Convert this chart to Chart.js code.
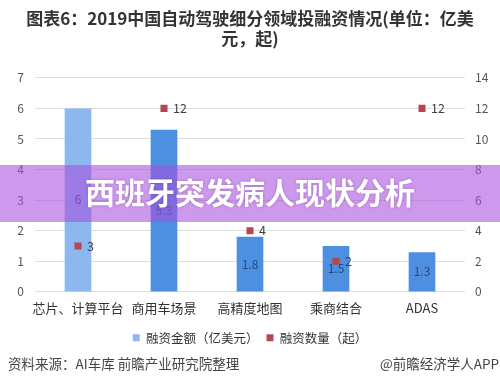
<!DOCTYPE html>
<html>
<head>
<meta charset="utf-8">
<script src="https://cdn.jsdelivr.net/npm/chart.js@4/dist/chart.umd.min.js"></script>
<style>
  html, body { margin: 0; padding: 0; background: #fff; }
  #wrap { width: 500px; height: 387px; position: relative; }
</style>
</head>
<body>
<div id="wrap"><canvas id="chart"></canvas></div>
<script>
const categories = ['芯片、计算平台', '商用车场景', '高精度地图', '乘商结合', 'ADAS'];
const amountValues = [6, 5.3, 1.8, 1.5, 1.3];
const countValues = [3, 12, 4, 2, 12];
const leftTicks = [0, 1, 2, 3, 4, 5, 6, 7];
const rightTicks = [0, 2, 4, 6, 8, 10, 12, 14];

const FONT = '"Noto Sans CJK SC", "Noto Sans", sans-serif';
const barColors = ['#8db7ef', '#4d90e2', '#4d90e2', '#4d90e2', '#4d90e2'];
const pointColor = '#b5484d';

// value labels: middle of each bar, right of each point
const valueLabels = {
  id: 'valueLabels',
  afterDatasetsDraw(chart) {
    const ctx = chart.ctx;
    ctx.save();
    ctx.font = '12px ' + FONT;
    ctx.textBaseline = 'middle';

    const bars = chart.getDatasetMeta(0).data;
    ctx.fillStyle = '#2c4773';
    ctx.textAlign = 'center';
    bars.forEach((bar, i) => {
      ctx.fillText(String(amountValues[i]), bar.x, (bar.y + bar.base) / 2);
    });

    const pts = chart.getDatasetMeta(1).data;
    ctx.fillStyle = '#404040';
    ctx.font = '12.5px ' + FONT;
    ctx.textAlign = 'left';
    pts.forEach((p, i) => {
      ctx.fillText(String(countValues[i]), p.x + 9, p.y);
    });
    ctx.restore();
  }
};

// banner across the middle and the source line at the bottom
const overlay = {
  id: 'overlay',
  afterDraw(chart) {
    const ctx = chart.ctx;
    const w = chart.width;
    ctx.save();
    ctx.fillStyle = 'rgba(168, 80, 222, 0.58)';
    ctx.fillRect(0, 165, w, 57);
    ctx.font = 'bold 30px ' + FONT;
    ctx.fillStyle = '#ffffff';
    ctx.textAlign = 'center';
    ctx.textBaseline = 'middle';
    ctx.shadowColor = 'rgba(80, 30, 110, 0.35)';
    ctx.shadowBlur = 3;
    ctx.fillText('西班牙突发病人现状分析', w / 2, 193);
    ctx.shadowBlur = 0;

    ctx.font = '13.5px ' + FONT;
    ctx.fillStyle = '#444';
    ctx.textAlign = 'left';
    ctx.fillText('资料来源：AI车库 前瞻产业研究院整理', 8, 364);
    ctx.textAlign = 'right';
    ctx.fillText('@前瞻经济学人APP', 499, 364);
    ctx.restore();
  }
};

new Chart(document.getElementById('chart'), {
  type: 'bar',
  data: {
    labels: categories,
    datasets: [
      {
        label: '融资金额（亿美元）',
        data: amountValues,
        yAxisID: 'y',
        backgroundColor: (c) => c.dataIndex === undefined ? '#9dbde6' : barColors[c.dataIndex],
        barPercentage: 0.31,
        categoryPercentage: 1,
        order: 2
      },
      {
        type: 'line',
        label: '融资数量（起）',
        data: countValues,
        yAxisID: 'y1',
        showLine: false,
        pointStyle: 'rect',
        pointRadius: 5,
        pointBackgroundColor: pointColor,
        pointBorderWidth: 0,
        backgroundColor: pointColor,
        borderColor: pointColor,
        borderWidth: 0,
        order: 1
      }
    ]
  },
  options: {
    responsive: true,
    maintainAspectRatio: false,
    animation: false,
    layout: { padding: { left: 0, right: 0, top: 0, bottom: 33 } },
    plugins: {
      title: {
        display: true,
        text: ['图表6：2019中国自动驾驶细分领域投融资情况(单位：亿美', '元，起)'],
        color: '#333',
        font: { family: FONT, size: 17, weight: 'bold', lineHeight: 1.2 },
        padding: { top: 8, bottom: 29 }
      },
      legend: {
        position: 'bottom',
        labels: {
          color: '#333',
          boxWidth: 7,
          boxHeight: 7,
          padding: 8,
          font: { family: FONT, size: 12.5 },
          sort: (a, b) => a.datasetIndex - b.datasetIndex
        }
      },
      tooltip: { enabled: false }
    },
    scales: {
      x: {
        grid: { display: false, drawTicks: false },
        border: { display: false },
        ticks: {
          color: '#333',
          padding: 8,
          maxRotation: 0,
          autoSkip: false,
          font: { family: FONT, size: 13 }
        }
      },
      y: {
        position: 'left',
        min: 0,
        max: 7,
        afterBuildTicks: (axis) => { axis.ticks = leftTicks.map(v => ({ value: v })); },
        afterFit: (axis) => { axis.width = 35; },
        grid: { color: '#dedede', drawTicks: false },
        border: { display: false },
        ticks: { color: '#555', padding: 11, font: { family: FONT, size: 12 } }
      },
      y1: {
        position: 'right',
        min: 0,
        max: 14,
        afterBuildTicks: (axis) => { axis.ticks = rightTicks.map(v => ({ value: v })); },
        afterFit: (axis) => { axis.width = 35; },
        grid: { display: false, drawTicks: false },
        border: { display: false },
        ticks: { color: '#555', padding: 10, font: { family: FONT, size: 12 } }
      }
    }
  },
  plugins: [valueLabels, overlay]
});
</script>
</body>
</html>
